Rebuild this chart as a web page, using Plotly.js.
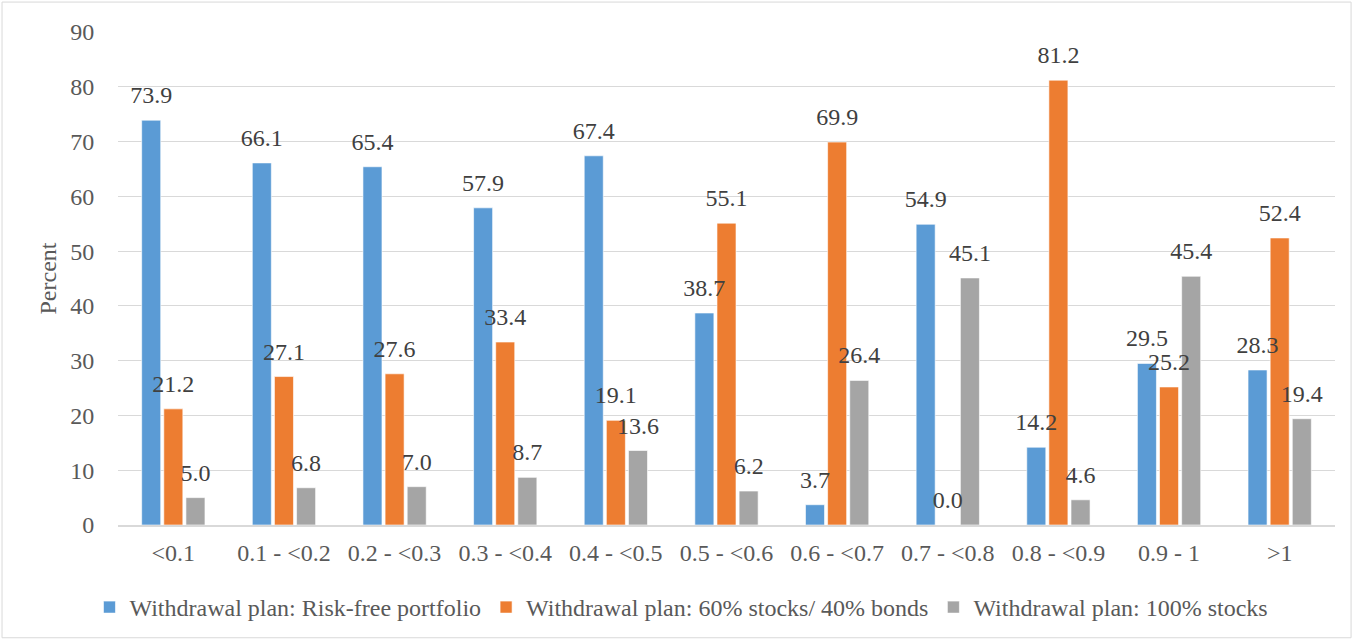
<!DOCTYPE html>
<html><head><meta charset="utf-8">
<script src="https://cdn.plot.ly/plotly-3.0.1.min.js"></script>
<style>body{margin:0;background:#fff}#chart{width:1354px;height:641px}</style>
</head><body><div id="chart"></div>
<script>
var categories = ['<0.1','0.1 - <0.2','0.2 - <0.3','0.3 - <0.4','0.4 - <0.5','0.5 - <0.6','0.6 - <0.7','0.7 - <0.8','0.8 - <0.9','0.9 - 1','>1'];
var riskFree = [73.9,66.1,65.4,57.9,67.4,38.7,3.7,54.9,14.2,29.5,28.3];
var sixtyForty = [21.2,27.1,27.6,33.4,19.1,55.1,69.9,0.0,81.2,25.2,52.4];
var allStocks = [5.0,6.8,7.0,8.7,13.6,6.2,26.4,45.1,4.6,45.4,19.4];
var seriesNames = ['Withdrawal plan: Risk-free portfolio','Withdrawal plan: 60% stocks/ 40% bonds','Withdrawal plan: 100% stocks'];
var colors = ['#5B9BD5','#ED7D31','#A5A5A5'];
var font = 'Liberation Serif';
var seriesValues = [riskFree, sixtyForty, allStocks];

var data = [];
seriesValues.forEach(function(vals, i){
  data.push({type:'bar', x:categories, y:vals, name:seriesNames[i], offsetgroup:String(i),
    marker:{color:colors[i], line:{color:'rgba(255,255,255,0.6)', width:1}}, hoverinfo:'none'});
});
seriesValues.forEach(function(vals, i){
  data.push({type:'scatter', mode:'markers+text', x:categories, y:vals, offsetgroup:String(i),
    showlegend:false, marker:{size:16, opacity:0, color:colors[i]},
    text:vals.map(function(v){return v.toFixed(1);}), textposition:'top center', cliponaxis:false,
    textfont:{family:font,size:24,color:'#404040'}, hoverinfo:'none'});
});
var layout = {
  width:1354, height:641,
  margin:{l:118,r:19,t:32,b:115},
  paper_bgcolor:'#fff', plot_bgcolor:'#fff',
  barmode:'group', bargap:0.4, bargroupgap:0.14,
  scattermode:'group', scattergap:0.4,
  font:{family:font, size:24, color:'#595959'},
  xaxis:{type:'category', showgrid:false, showline:true, linecolor:'#d9d9d9', linewidth:2,
    ticks:'outside', ticklen:5, tickcolor:'rgba(0,0,0,0)', tickfont:{family:font,size:24,color:'#595959'}},
  yaxis:{range:[0,90], dtick:10, showgrid:true, gridcolor:'#d9d9d9', gridwidth:1, zeroline:false,
    ticks:'outside', ticklen:18, tickcolor:'rgba(0,0,0,0)', tickfont:{family:font,size:24,color:'#595959'},
    title:{text:'Percent', font:{family:font,size:24,color:'#595959'}, standoff:6}},
  legend:{orientation:'h', x:0.463, xanchor:'center', y:-0.165, yanchor:'middle',
    font:{family:font,size:24,color:'#595959'}, itemwidth:30, tracegroupgap:0},
  showlegend:true,
  shapes:[{type:'rect', xref:'paper', yref:'paper', x0:-0.0953, x1:1.0132, y0:-0.2287, y1:1.0607,
    line:{color:'#d9d9d9', width:1}, layer:'below'}]
};
Plotly.newPlot('chart', data, layout, {displayModeBar:false, staticPlot:true});
</script></body></html>
